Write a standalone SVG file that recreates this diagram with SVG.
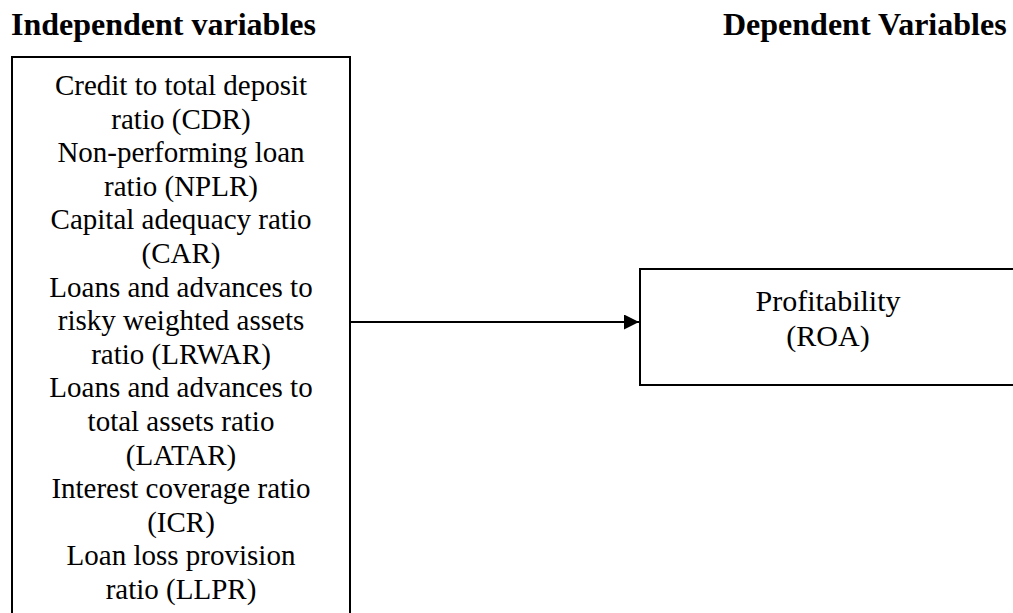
<svg xmlns="http://www.w3.org/2000/svg" width="1013" height="613" viewBox="0 0 1013 613">
  <style>
    .head { font-family: "Liberation Serif", "Times New Roman", serif; font-weight: bold; font-size: 32px; fill: #000; }
    .lbl { font-family: "Liberation Serif", "Times New Roman", serif; font-size: 29px; fill: #000; text-anchor: middle; }
    .lbl2 { font-family: "Liberation Serif", "Times New Roman", serif; font-size: 30px; fill: #000; text-anchor: middle; }
    .box { fill: #fff; stroke: #000; stroke-width: 2; }
    .conn { stroke: #000; stroke-width: 2; fill: none; }
  </style>
  <defs>
    <marker id="arrow" markerWidth="7.5" markerHeight="7.5" refX="7.5" refY="3.75" orient="auto" markerUnits="strokeWidth">
      <path d="M0,0 L7.5,3.75 L0,7.5 Z" fill="#000"/>
    </marker>
  </defs>
  <rect width="1013" height="613" fill="#fff"/>
  <g id="headings">
    <text class="head" x="11" y="35">Independent variables</text>
    <text class="head" x="723" y="35">Dependent Variables</text>
  </g>
  <g id="independent">
    <rect class="box" x="12" y="57" width="338" height="570"/>
    <text class="lbl" x="181" y="95">Credit to total deposit</text>
    <text class="lbl" x="181" y="128.6">ratio (CDR)</text>
    <text class="lbl" x="181" y="162.2">Non-performing loan</text>
    <text class="lbl" x="181" y="195.8">ratio (NPLR)</text>
    <text class="lbl" x="181" y="229.4">Capital adequacy ratio</text>
    <text class="lbl" x="181" y="263">(CAR)</text>
    <text class="lbl" x="181" y="296.6">Loans and advances to</text>
    <text class="lbl" x="181" y="330.2">risky weighted assets</text>
    <text class="lbl" x="181" y="363.8">ratio (LRWAR)</text>
    <text class="lbl" x="181" y="397.4">Loans and advances to</text>
    <text class="lbl" x="181" y="431">total assets ratio</text>
    <text class="lbl" x="181" y="464.6">(LATAR)</text>
    <text class="lbl" x="181" y="498.2">Interest coverage ratio</text>
    <text class="lbl" x="181" y="531.8">(ICR)</text>
    <text class="lbl" x="181" y="565.4">Loan loss provision</text>
    <text class="lbl" x="181" y="599">ratio (LLPR)</text>
  </g>
  <g id="dependent">
    <rect class="box" x="640" y="269" width="376" height="116"/>
    <text class="lbl2" x="828" y="311">Profitability</text>
    <text class="lbl2" x="828" y="346">(ROA)</text>
  </g>
  <g id="connectors">
    <line class="conn" x1="350" y1="322" x2="639" y2="322" marker-end="url(#arrow)"/>
  </g>
</svg>
